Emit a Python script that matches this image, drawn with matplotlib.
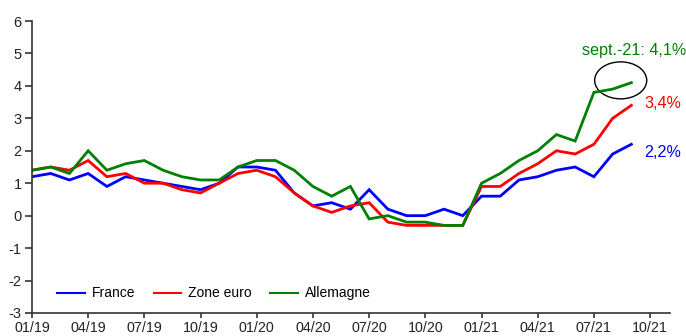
import matplotlib
matplotlib.use("Agg")
import matplotlib.pyplot as plt
from matplotlib.patches import Ellipse

plt.rcParams['font.family'] = ['Liberation Sans', 'DejaVu Sans']
plt.rcParams['axes.unicode_minus'] = False

# Monthly year-on-year inflation, Jan 2019 - Sep 2021 (%)
france = [1.2, 1.3, 1.1, 1.3, 0.9, 1.2, 1.1, 1.0, 0.9, 0.8, 1.0, 1.5,
          1.5, 1.4, 0.7, 0.3, 0.4, 0.2, 0.8, 0.2, 0.0, 0.0, 0.2, 0.0,
          0.6, 0.6, 1.1, 1.2, 1.4, 1.5, 1.2, 1.9, 2.2]
zone_euro = [1.4, 1.5, 1.4, 1.7, 1.2, 1.3, 1.0, 1.0, 0.8, 0.7, 1.0, 1.3,
             1.4, 1.2, 0.7, 0.3, 0.1, 0.3, 0.4, -0.2, -0.3, -0.3, -0.3, -0.3,
             0.9, 0.9, 1.3, 1.6, 2.0, 1.9, 2.2, 3.0, 3.4]
allemagne = [1.4, 1.5, 1.3, 2.0, 1.4, 1.6, 1.7, 1.4, 1.2, 1.1, 1.1, 1.5,
             1.7, 1.7, 1.4, 0.9, 0.6, 0.9, -0.1, 0.0, -0.2, -0.2, -0.3, -0.3,
             1.0, 1.3, 1.7, 2.0, 2.5, 2.3, 3.8, 3.9, 4.1]
tick_labels = ['01/19', '04/19', '07/19', '10/19', '01/20', '04/20',
               '07/20', '10/20', '01/21', '04/21', '07/21', '10/21']
series_names = ['France', 'Zone euro', 'Allemagne']
series_colors = ['#0000ff', '#ff0000', '#008000']
last_month_label = 'sept.-21'


def pct(v):
    return f"{v:.1f}%".replace('.', ',')


months = list(range(len(france)))

fig = plt.figure(figsize=(6.86, 3.36), dpi=100)
ax = fig.add_axes([0.0466, 0.0685, 0.930, 0.869])

for vals, name, col in zip([france, zone_euro, allemagne], series_names, series_colors):
    ax.plot(months, vals, color=col, lw=2.0, label=name, solid_joinstyle='miter')

ax.set_xlim(0, 34.06)
ax.set_ylim(-3, 6)
ax.set_yticks(range(-3, 7))
ax.set_xticks(range(0, 3 * len(tick_labels), 3))
ax.set_xticklabels(tick_labels)

for s in ['top', 'right']:
    ax.spines[s].set_visible(False)
for s in ['left', 'bottom']:
    ax.spines[s].set_color('#333333')
    ax.spines[s].set_linewidth(1.2)
ax.tick_params(axis='both', direction='out', width=1.2,
               color='#333333', labelcolor='#222222')
ax.tick_params(axis='y', length=5, pad=2.5, labelsize=10.5)
ax.tick_params(axis='x', length=3.5, pad=2, labelsize=10.3)

# Highlight the latest German readings
last = len(allemagne) - 1
ax.add_patch(Ellipse((last - 0.57, allemagne[-1] + 0.07), 2.78, 1.14,
                     fill=False, ec='black', lw=1.0))

ax.text(last - 2.65, 5.1, f"{last_month_label}: {pct(allemagne[-1])}",
        color=series_colors[2], fontsize=11.6, va='center', ha='left')
ax.text(last + 0.7, zone_euro[-1] + 0.07, pct(zone_euro[-1]),
        color=series_colors[1], fontsize=11.6, va='center', ha='left')
ax.text(last + 0.7, france[-1] - 0.24, pct(france[-1]),
        color=series_colors[0], fontsize=11.6, va='center', ha='left')

leg = ax.legend(loc='lower left', bbox_to_anchor=(0.02, 0.0), ncol=3, frameon=False,
                fontsize=10, handlelength=2.0, handletextpad=0.5, columnspacing=1.3)
for line in leg.get_lines():
    line.set_linewidth(1.5)

fig.savefig('out.png', dpi=100)
